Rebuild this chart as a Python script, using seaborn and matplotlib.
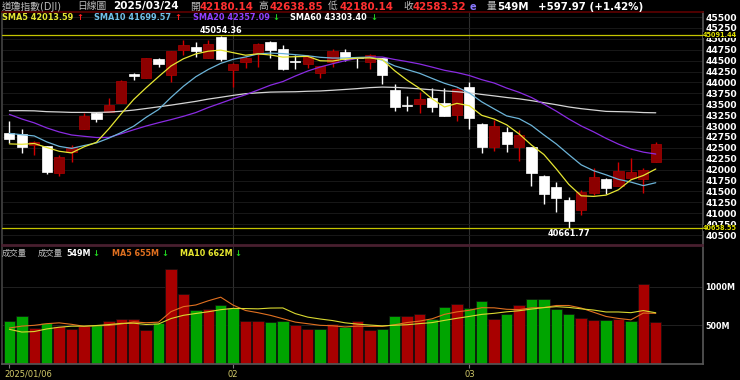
import numpy as np
import pandas as pd
import matplotlib.pyplot as plt
import matplotlib.transforms as mtransforms
import seaborn as sns

# =========================
# Data (DJI daily, 2025/01/06 - 2025/03/24)
# =========================
jan = "06 07 08 10 13 14 15 16 17 21 22 23 24 27 28 29 30 31".split()
feb = "03 04 05 06 07 10 11 12 13 14 18 19 20 21 24 25 26 27 28".split()
mar = "03 04 05 06 07 10 11 12 13 14 17 18 19 20 21 24".split()
dates = (["2025/01/" + d for d in jan] + ["2025/02/" + d for d in feb]
         + ["2025/03/" + d for d in mar])

opens = [42834, 42817, 42565, 42549, 41930, 42412, 42932, 43291, 43329, 43536,
         44185, 44109, 44529, 44170, 44743, 44805, 44552, 45049, 44285, 44476,
         44652, 44934, 44759, 44500, 44420, 44223, 44476, 44705, 44580, 44476,
         44552, 43826, 43480, 43505, 43635, 43520, 43253, 43902, 43046, 42526,
         42855, 42511, 42526, 41861, 41594, 41303, 41074, 41456, 41785, 41632,
         41800, 41785, 42180.14]
highs = [43123, 42939, 42664, 42549, 42335, 42565, 43306, 43329, 43650, 44055,
         44224, 44565, 44552, 44728, 44973, 44935, 44973, 45054.36, 44453, 44590,
         44896, 44950, 44858, 44629, 44640, 44361, 44758, 44758, 44590, 44650,
         44560, 43956, 43696, 43788, 43864, 43864, 43864, 44017, 43080, 43138,
         42985, 42909, 42526, 41880, 41724, 41380, 41533, 42029, 41800, 42182,
         42259, 42030, 42638.85]
lows = [42603, 42389, 42335, 41900, 41861, 42182, 42932, 43100, 43329, 43536,
        44055, 44109, 44346, 44017, 44629, 44590, 44552, 44499, 43902, 44330,
        44361, 44560, 44285, 44300, 44340, 44109, 44361, 44500, 44325, 44308,
        43956, 43352, 43352, 43291, 43330, 43230, 43123, 42932, 42373, 42434,
        42396, 42205, 41632, 41211, 41036, 40661.77, 40959, 41420, 41441, 41632,
        41800, 41456, 42180.14]
closes = [42706.56, 42528.36, 42635.20, 41938.45, 42297.12, 42518.28, 43221.55,
          43153.13, 43487.83, 44025.81, 44156.73, 44565.07, 44424.25, 44713.58,
          44850.35, 44713.52, 44882.13, 44544.66, 44421.91, 44556.04, 44873.28,
          44747.63, 44303.40, 44470.41, 44593.65, 44368.56, 44711.43, 44546.08,
          44556.34, 44627.59, 44176.65, 43428.02, 43461.21, 43621.16, 43433.12,
          43239.50, 43840.91, 43191.24, 42520.99, 43006.59, 42579.08, 42801.72,
          41911.71, 41433.48, 41350.93, 40813.57, 41488.19, 41841.63, 41581.31,
          41964.63, 41953.32, 41985.35, 42583.32]
volumes = [552, 616, 465, 535, 491, 457, 491, 500, 552, 586,
           586, 444, 535, 1232, 909, 694, 715, 767, 720, 561,
           552, 543, 552, 500, 457, 448, 513, 478, 552, 439,
           448, 620, 620, 646, 586, 736, 780, 723, 814, 577,
           642, 758, 836, 837, 707, 642, 594, 565, 565, 577,
           552, 1032, 549]

# closes before the window (2024/10/10 - 2025/01/03), needed for the SMAs
prior_closes = [42454.12, 42863.86, 43065.22, 42740.42, 43077.70, 43239.05,
                43275.91, 42931.60, 42924.89, 42514.95, 42374.36, 42114.40,
                42387.57, 42233.05, 42141.54, 41763.46,
                42052.19, 41794.60, 42221.88, 43729.93, 43729.34, 43988.99,
                44293.13, 43910.98, 43958.19, 43750.86, 43444.99, 43389.60,
                43268.94, 43408.47, 43870.35, 44296.51, 44736.57, 44860.31,
                44722.06, 44910.65,
                44782.00, 44705.53, 45014.04, 44765.71, 44642.52, 44401.93,
                44247.83, 44148.56, 43914.12, 43828.06, 43717.48, 43449.90,
                42326.87, 42342.24, 42840.26, 42906.95, 43297.03, 43325.80,
                42992.21, 42573.73, 42544.22, 42392.27, 42732.13]
prior_volumes = [966, 400, 200, 270, 319, 491, 415, 430, 437]

price_ticks = list(range(40500, 45501, 250))
vol_ticks = [500, 1000]
vol_tick_labels = ["500M", "1000M"]
ref_lines = [45091.44, 40658.55]

# =========================
# Derived series
# =========================
n = len(closes)
idx = np.arange(n)
all_close = pd.Series(prior_closes + closes)
sma = {w: all_close.rolling(w).mean().iloc[-n:].to_numpy() for w in (5, 10, 20, 60)}
all_vol = pd.Series(prior_volumes + volumes)
vma5 = all_vol.rolling(5).mean().iloc[-n:].to_numpy()
vma10 = all_vol.rolling(10).mean().iloc[-n:].to_numpy()

df = pd.DataFrame({"date": dates, "open": opens, "high": highs, "low": lows,
                   "close": closes, "volume": volumes})
df["up"] = df["close"] >= df["open"]
df["vol_up"] = df["close"] >= pd.Series(prior_closes[-1:] + closes[:-1])
month_idx = [0] + [i for i in range(1, n) if dates[i][5:7] != dates[i - 1][5:7]]

# =========================
# Figure
# =========================
sns.set_theme(style="dark", rc={"axes.facecolor": "black", "figure.facecolor": "black"})
plt.rcParams["font.family"] = ["DejaVu Sans", "Noto Sans CJK TC"]

W, H = 740, 380
fig = plt.figure(figsize=(W / 100, H / 100), dpi=100, facecolor="black")
ax = fig.add_axes([2 / W, 1 - 245 / H, 701 / W, 233 / H])
axv = fig.add_axes([2 / W, 1 - 364 / H, 701 / W, 118 / H])

for a in (ax, axv):
    a.set_facecolor("black")
    a.set_xlim(-0.595, 55.8)
    for i in month_idx[1:]:
        a.axvline(i, color="#2e2e2e", lw=0.8, zorder=0.5)
    a.spines["left"].set_color("#404040")
    a.spines["right"].set_color("#555555")

ax.spines["top"].set_color("#5a0000")
ax.spines["bottom"].set_color("#4a2030")
axv.spines["top"].set_color("#4a2030")
axv.spines["bottom"].set_color("#555555")

# ---- price panel ----
ax.set_ylim(40271, 45615)
ax.yaxis.tick_right()
ax.set_yticks(price_ticks)
ax.set_yticklabels([str(t) for t in price_ticks])
ax.tick_params(axis="y", colors="white", labelsize=6.6, length=0, pad=1.5)
for lbl in ax.get_yticklabels():
    lbl.set_fontweight("bold")
ax.set_xticks([])
ax.grid(axis="y", color="#1c1c1c", lw=0.6)
ax.grid(axis="x", visible=False)

up = df[df["up"]]
dn = df[~df["up"]]
ax.vlines(up.index, up["low"], up["high"], color="#d00000", lw=1.0, zorder=2)
ax.vlines(dn.index, dn["low"], dn["high"], color="white", lw=1.0, zorder=2)
ax.bar(up.index, np.maximum(up["close"] - up["open"], 12), bottom=up["open"], width=0.82,
       color="#8c0000", edgecolor="#b00000", lw=0.5, zorder=3)
ax.bar(dn.index, np.maximum(dn["open"] - dn["close"], 12), bottom=dn["close"], width=0.82,
       color="white", edgecolor="white", lw=0.5, zorder=3)

ma_colors = {60: "#d4d4d4", 20: "#8a2be2", 10: "#6cb4d8", 5: "#e6e632"}
for w, c in ma_colors.items():
    sns.lineplot(x=idx, y=sma[w], ax=ax, color=c, lw=0.9, zorder=4)

blend = mtransforms.blended_transform_factory(ax.transAxes, ax.transData)
for v in ref_lines:
    ax.plot([0, 1.0], [v, v], transform=blend, color="#c4c400", lw=0.9, clip_on=False, zorder=5)
    ax.text(1.0, v, f"{v:.2f}", transform=blend, color="#e0e000", fontsize=4.7,
            fontweight="bold", va="center", ha="left", zorder=6, clip_on=False,
            bbox=dict(boxstyle="square,pad=0.05", fc="black", ec="none"))

i_hi = int(np.argmax(highs))
i_lo = int(np.argmin(lows))
ax.annotate(f"{highs[i_hi]:.2f}", xy=(i_hi, highs[i_hi]), xytext=(0, 1),
            textcoords="offset points", ha="center", va="bottom",
            color="white", fontsize=5.9, fontweight="bold")
ax.annotate(f"{lows[i_lo]:.2f}", xy=(i_lo, lows[i_lo]), xytext=(0, -1),
            textcoords="offset points", ha="center", va="top",
            color="white", fontsize=5.9, fontweight="bold")

# ---- volume panel ----
axv.set_ylim(0, 1525)
axv.yaxis.tick_right()
axv.set_yticks(vol_ticks)
axv.set_yticklabels(vol_tick_labels)
axv.tick_params(axis="y", colors="white", labelsize=5.8, length=0, pad=1.5)
for lbl in axv.get_yticklabels():
    lbl.set_fontweight("bold")
axv.grid(axis="y", color="#262626", lw=0.6)
axv.grid(axis="x", visible=False)

vcol = np.where(df["vol_up"], "#a80000", "#00a400")
axv.bar(idx, volumes, width=0.92, color=vcol, edgecolor="#111111", lw=0.5, zorder=2)
sns.lineplot(x=idx, y=vma5, ax=axv, color="#e07020", lw=0.8, zorder=3)
sns.lineplot(x=idx, y=vma10, ax=axv, color="#d8d830", lw=0.8, zorder=3)

axv.set_xticks(month_idx)
axv.set_xticklabels([])
axv.tick_params(axis="x", colors="#777777", length=3, width=0.8, bottom=True)
vblend = mtransforms.blended_transform_factory(axv.transData, axv.transAxes)
date_col = "#d4cc6a"
fig.text(4 / W, 1 - 374 / H, dates[0], color=date_col, fontsize=6, va="center", ha="left")
for i in month_idx[1:]:
    axv.text(i, -0.085, dates[i][5:7], transform=vblend, color=date_col, fontsize=6,
             va="center", ha="center")


# =========================
# Header texts
# =========================
def put(x, y, s, color, size=7.4, bold=True):
    fig.text(x / W, 1 - y / H, s, color=color, fontsize=size, va="center", ha="left",
             fontweight="bold" if bold else "normal")


gray = "#bdbdbd"
red = "#ff3030"
put(2, 6.5, "道瓊指數(DJI)", gray, 7, False)
put(77, 6.5, "日線圖", gray, 7, False)
put(113, 6.5, "2025/03/24", "white", 7.5)
put(190, 6.5, "開", gray, 7, False)
put(200, 6.5, "42180.14", red)
put(258, 6.5, "高", gray, 7, False)
put(270, 6.5, "42638.85", red)
put(328, 6.5, "低", gray, 7, False)
put(340, 6.5, "42180.14", red)
put(403, 6.5, "收", gray, 7, False)
put(413, 6.5, "42583.32", red)
put(470, 6.5, "e", "#8878ff", 7)
put(487, 6.5, "量", gray, 7, False)
put(497, 6.5, "549M", "white")
put(538, 6.5, "+597.97 (+1.42%)", "white")

put(2, 17.5, "SMA5 42013.59", "#e6e632", 5.9)
put(76, 17.5, "↑", "#ff2020", 6)
put(94, 17.5, "SMA10 41699.57", "#70c0e8", 5.9)
put(174, 17.5, "↑", "#ff2020", 6)
put(193, 17.5, "SMA20 42357.09", "#9040ff", 5.9)
put(272, 17.5, "↓", "#20d020", 6)
put(290, 17.5, "SMA60 43303.40", "white", 5.9)
put(370, 17.5, "↓", "#20d020", 6)

put(2, 253.5, "成交量", gray, 6, False)
put(38, 253.5, "成交量", gray, 6, False)
put(66, 253.5, "549M", "white", 5.8)
put(92, 253.5, "↓", "#20d020", 6)
put(112, 253.5, "MA5 655M", "#e07020", 5.8)
put(161, 253.5, "↓", "#20d020", 6)
put(180, 253.5, "MA10 662M", "#e8e830", 5.8)
put(234, 253.5, "↓", "#20d020", 6)

fig.savefig("out.png", dpi=100, facecolor="black")
plt.close(fig)
